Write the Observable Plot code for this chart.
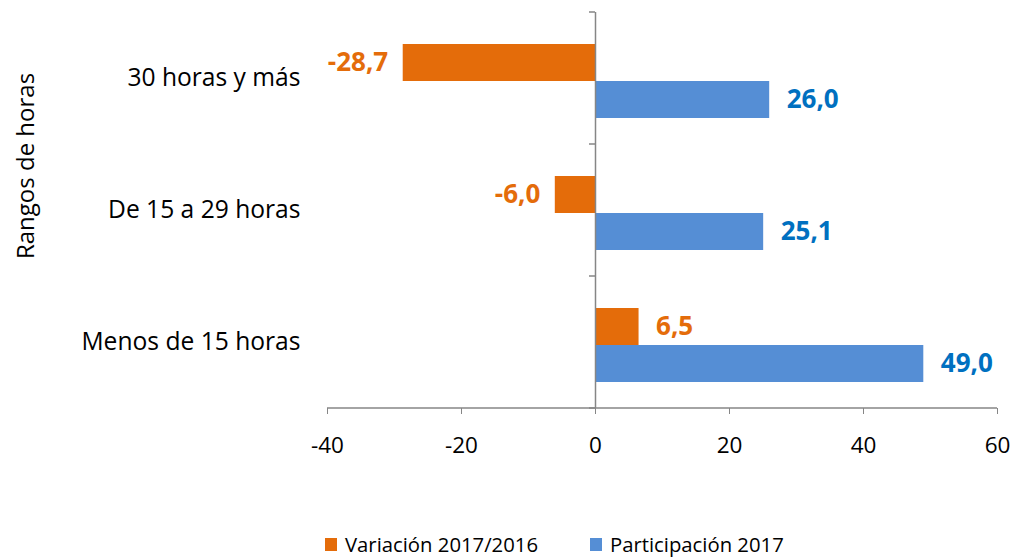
<!DOCTYPE html>
<html><head><meta charset="utf-8">
<script src="https://cdn.jsdelivr.net/npm/d3@7"></script>
<script src="https://cdn.jsdelivr.net/npm/@observablehq/plot@0.6"></script>
<style>
body{margin:0;background:#fff;font-family:"Open Sans",sans-serif;}
#chart svg{display:block;}
#legend{position:relative;height:28px;padding-left:325px;display:flex;align-items:center;font-size:20.3px;color:#000;}
.item{display:flex;align-items:center;}
.sw{width:12px;height:13px;margin-right:8px;}
</style></head><body>
<div id="chart"></div>
<div id="legend"></div>
<script>
const categories = ["30 horas y más", "De 15 a 29 horas", "Menos de 15 horas"];
const series = ["Variación 2017/2016", "Participación 2017"];
const variacion = [-28.7, -6.0, 6.5];
const participacion = [26.0, 25.1, 49.0];
const xTicks = [-40, -20, 0, 20, 40, 60];
const barColors = ["#E46C0A", "#558ED5"];
const labelColors = ["#E46C0A", "#0070C0"];
const axisTitle = "Rangos de horas";

const data = [];
categories.forEach((c, i) => {
  data.push({cat: c, series: series[0], value: variacion[i]});
  data.push({cat: c, series: series[1], value: participacion[i]});
});
const fmt = d => d.value.toFixed(1).replace(".", ",");

const W = 1013, H = 530;
const plot = Plot.plot({
  width: W, height: H,
  marginLeft: 327, marginRight: 16, marginTop: 12, marginBottom: H - 408,
  style: {fontFamily: "'Open Sans', sans-serif", fontSize: "20px", color: "#000", background: "#fff"},
  x: {domain: [-40, 60], ticks: xTicks, axis: null},
  y: {domain: series, paddingInner: 0, paddingOuter: 0.737, align: 0.55, axis: null},
  fy: {domain: categories, padding: 0, axis: null},
  color: {domain: series, range: barColors},
  marks: [
    Plot.barX(data, {x: "value", y: "series", fy: "cat", fill: "series"}),
    Plot.ruleX([0], {stroke: "#868686", strokeWidth: 1.5}),
    Plot.text(data.filter(d => d.value < 0), {x: "value", y: "series", fy: "cat", text: fmt, textAnchor: "end", dx: -15, fill: labelColors[0], fontWeight: "bold", fontSize: 26}),
    Plot.text(data.filter(d => d.value >= 0 && d.series === series[0]), {x: "value", y: "series", fy: "cat", text: fmt, textAnchor: "start", dx: 17, fill: labelColors[0], fontWeight: "bold", fontSize: 26}),
    Plot.text(data.filter(d => d.series === series[1]), {x: "value", y: "series", fy: "cat", text: fmt, textAnchor: "start", dx: 17, fill: labelColors[1], fontWeight: "bold", fontSize: 26}),
    Plot.axisFy({anchor: "left", tickSize: 0, tickPadding: 27, fontSize: 24.6, label: null, fill: "#000"}),
    Plot.axisX({ticks: xTicks, tickSize: 6, tickPadding: 23, stroke: "#868686", fill: "#000", fontSize: 22.5, label: null, tickFormat: d => String(d).replace("−", "-")})
  ]
});
document.getElementById("chart").appendChild(plot);

// axis domain lines and category boundary ticks, positioned from Plot's scales
const xs = plot.scale("x"), fys = plot.scale("fy");
const svgSel = d3.select(plot);
const xZero = xs.apply(0);
const yBottom = fys.apply(categories[categories.length - 1]) + fys.bandwidth;
const gAxes = svgSel.append("g").attr("stroke", "#868686").attr("stroke-width", 1.5);
gAxes.append("line").attr("x1", xs.apply(-40)).attr("x2", xs.apply(60)).attr("y1", yBottom).attr("y2", yBottom);
const bounds = categories.map(c => fys.apply(c)).concat([yBottom]);
bounds.forEach(b => gAxes.append("line").attr("x1", xZero - 6).attr("x2", xZero).attr("y1", b).attr("y2", b));
svgSel.append("text").text(axisTitle)
  .attr("transform", `translate(34,166) rotate(-90)`)
  .attr("text-anchor", "middle").attr("font-size", 24).attr("fill", "#000");

const legend = d3.select("#legend");
series.forEach((s, i) => {
  const it = legend.append("div").attr("class", "item").style("margin-right", i === 0 ? "52px" : "0");
  it.append("div").attr("class", "sw").style("background", barColors[i]);
  it.append("span").text(s);
});
</script></body></html>
